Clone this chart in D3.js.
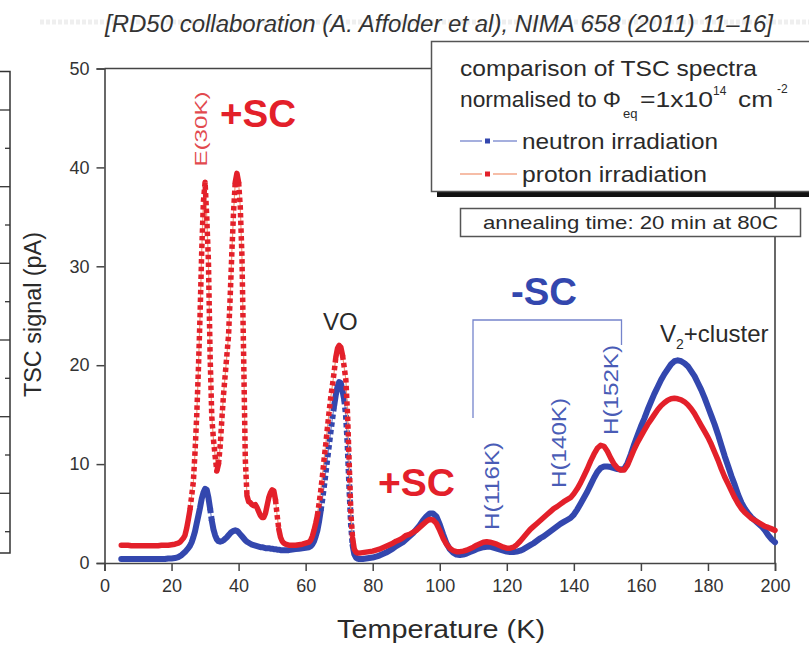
<!DOCTYPE html>
<html>
<head>
<meta charset="utf-8">
<script src="https://cdn.jsdelivr.net/npm/d3@7"></script>
<style>
  body { margin: 0; background: #fff; }
  svg { display: block; font-family: "Liberation Sans", Arial, sans-serif; }
</style>
</head>
<body>
<svg id="chart" width="809" height="645"></svg>
<script>
// ---------------- DATA ----------------
const temperatures = [
  5,6,7,8,9,10,11,12,13,14,15,16,17,18,19,20,21,22,
  22.5,23,23.5,24,24.5,25,25.5,26,26.5,27,
  27.5,28,28.5,29,29.5,30,30.5,31,31.5,32,
  32.5,33,33.5,34,34.5,35,35.5,36,36.5,37,
  37.5,38,38.5,39,39.5,40,40.5,41,41.5,42,
  42.5,43,43.5,44,44.5,45,45.5,46,46.5,47,
  47.5,48,48.5,49,49.5,50,50.5,51,51.5,52,
  52.5,53,53.5,54,54.5,55,
  56,57,58,59,60,61,
  61.5,62,62.5,63,63.5,64,64.5,65,65.5,66,
  66.5,67,67.5,68,68.5,69,69.5,70,70.5,71,
  71.5,72,72.5,73,73.5,74,74.5,75,75.5,76,
  77,78,79,80,81,82,83,84,85,86,
  87,88,89,90,91,92,93,94,95,96,
  97,98,99,100,101,102,103,104,105,106,
  107,108,109,110,111,112,113,114,115,116,
  117,118,119,120,121,122,123,124,125,126,
  127,128,129,130,131,132,133,134,135,136,
  137,138,139,140,141,142,143,144,145,146,
  147,148,149,150,151,152,153,154,155,156,
  157,158,159,160,161,162,163,164,165,166,
  167,168,169,170,171,172,173,174,175,176,
  177,178,179,180,181,182,183,184,185,186,
  187,188,189,190,191,192,193,194,195,196,
  197,198,199,200
];

const protonSignal = [
  1.8,1.8,1.8,1.75,1.75,1.75,1.75,1.75,1.75,1.75,1.75,1.75,1.8,1.8,1.8,1.85,1.9,2.0,
  2.1,2.3,2.5,2.8,3.5,4.4,5.4,6.8,8.2,11.2,
  14.8,19.5,25.0,31.5,36.5,38.5,35.0,30.5,21.0,14.8,
  12.5,10.8,9.3,10.0,11.8,14.5,17.0,19.0,21.0,23.0,
  27.0,31.5,35.5,38.5,39.4,38.5,36.0,31.0,21.0,10.5,
  6.8,6.2,6.1,5.9,5.8,5.9,5.6,5.2,4.8,4.6,
  4.6,5.0,5.8,6.6,7.1,7.4,7.3,6.4,4.8,3.4,
  2.6,2.2,2.0,1.9,1.85,1.8,
  1.8,1.8,1.85,1.9,2.0,2.1,
  2.3,2.7,3.3,4.0,4.8,6.0,7.3,8.8,10.5,12.0,
  13.7,15.3,16.8,18.0,19.3,20.8,21.7,22.0,21.8,21.0,
  19.8,18.5,15.0,10.0,5.0,2.5,1.4,1.1,1.0,1.0,
  1.05,1.1,1.15,1.2,1.3,1.4,1.55,1.7,1.85,2.0,
  2.2,2.35,2.55,2.8,2.9,3.1,3.3,3.6,3.9,4.2,
  4.4,4.35,4.0,3.3,2.5,1.9,1.5,1.25,1.15,1.15,
  1.2,1.3,1.45,1.6,1.8,1.95,2.1,2.15,2.1,2.0,
  1.9,1.75,1.6,1.5,1.5,1.6,1.85,2.2,2.6,3.0,
  3.4,3.7,4.0,4.3,4.6,4.9,5.2,5.5,5.7,5.95,
  6.2,6.4,6.6,7.0,7.5,8.1,8.8,9.5,10.3,11.0,
  11.6,11.9,11.8,11.3,10.6,10.0,9.6,9.4,9.4,9.9,
  10.7,11.5,12.2,12.8,13.4,14.0,14.5,15.0,15.5,15.9,
  16.2,16.45,16.6,16.65,16.6,16.5,16.3,16.0,15.6,15.1,
  14.5,13.9,13.3,12.7,12.0,11.2,10.4,9.5,8.7,8.0,
  7.3,6.6,6.0,5.5,5.1,4.8,4.5,4.3,4.1,3.9,
  3.7,3.6,3.45,3.3
];

const neutronSignal = [
  0.4,0.4,0.4,0.4,0.4,0.4,0.4,0.4,0.4,0.4,0.4,0.4,0.4,0.4,0.45,0.45,0.5,0.6,
  0.7,0.8,0.95,1.1,1.3,1.5,1.75,2.1,2.6,3.2,
  4.0,4.8,5.6,6.5,7.1,7.5,7.4,6.6,5.5,4.3,
  3.4,2.8,2.4,2.2,2.15,2.2,2.3,2.45,2.6,2.8,
  3.0,3.15,3.25,3.3,3.25,3.1,2.9,2.7,2.5,2.3,
  2.15,2.05,1.95,1.85,1.8,1.75,1.7,1.65,1.6,1.6,
  1.55,1.5,1.5,1.5,1.45,1.45,1.4,1.4,1.35,1.35,
  1.3,1.3,1.3,1.3,1.3,1.3,
  1.35,1.4,1.45,1.5,1.55,1.6,
  1.7,1.9,2.2,2.7,3.3,4.2,5.3,6.5,7.8,9.2,
  10.6,12.0,13.4,14.7,15.9,17.0,17.8,18.3,18.2,17.4,
  16.5,15.0,12.0,7.8,4.0,1.8,0.9,0.55,0.45,0.4,
  0.4,0.45,0.5,0.55,0.65,0.75,0.9,1.05,1.25,1.45,
  1.7,1.9,2.1,2.4,2.7,3.0,3.4,3.8,4.3,4.7,
  5.0,5.0,4.7,3.9,2.9,2.0,1.4,1.05,0.85,0.8,
  0.85,0.95,1.1,1.25,1.4,1.5,1.6,1.65,1.65,1.55,
  1.45,1.35,1.25,1.15,1.1,1.1,1.15,1.25,1.4,1.6,
  1.8,2.0,2.25,2.5,2.7,2.95,3.2,3.45,3.7,3.95,
  4.15,4.35,4.55,4.9,5.4,6.0,6.6,7.2,7.9,8.6,
  9.2,9.6,9.75,9.75,9.7,9.6,9.5,9.45,9.5,10.1,
  11.0,12.0,12.9,13.8,14.6,15.5,16.3,17.1,17.8,18.5,
  19.1,19.6,20.1,20.4,20.5,20.4,20.2,19.9,19.4,18.9,
  18.2,17.5,16.7,15.8,14.9,14.0,13.0,11.9,10.8,9.8,
  8.8,7.9,6.9,6.1,5.5,5.0,4.6,4.3,4.0,3.7,
  3.3,2.8,2.4,2.1
];

const xTicks = [0, 20, 40, 60, 80, 100, 120, 140, 160, 180, 200];
const yTicks = [0, 10, 20, 30, 40, 50];
const seriesNames = ["neutron irradiation", "proton irradiation"];
const titleText = "[RD50 collaboration (A. Affolder et al), NIMA 658 (2011) 11\u201316]";

if (temperatures.length !== protonSignal.length || temperatures.length !== neutronSignal.length) {
  console.error("length mismatch", temperatures.length, protonSignal.length, neutronSignal.length);
}

// ---------------- LAYOUT ----------------
const svg = d3.select("#chart");
const RED = "#e3202a", RED_THIN = "#f29a78";
const BLUE = "#3347ae", BLUE_THIN = "#7584cc";
const INK = "#2a2a2a";

const x = d3.scaleLinear().domain([0, 200]).range([104.5, 775]);
const y = d3.scaleLinear().domain([0, 50]).range([563, 68.5]);

svg.append("rect").attr("width", 809).attr("height", 645).attr("fill", "#fff");

// faint dotted band behind title
svg.append("line").attr("x1", 40).attr("x2", 809).attr("y1", 22).attr("y2", 22)
  .attr("stroke", "#efefef").attr("stroke-width", 5).attr("stroke-dasharray", "4 2");

// title
svg.append("text").attr("x", 105).attr("y", 32)
  .attr("font-size", 23).attr("font-style", "italic").attr("fill", "#333")
  .attr("textLength", 668).attr("lengthAdjust", "spacingAndGlyphs")
  .text(titleText);

// partial neighbouring frame at the left edge
const leftFrame = svg.append("g").attr("stroke", "#333").attr("fill", "none");
leftFrame.append("path").attr("d", "M-2,71.5 H10 V553 H-2").attr("stroke-width", 1.5);
const ly = [110, 148.3, 186.7, 225, 263.3, 301.7, 340, 378.3, 416.7, 455, 493.3, 531.7];
ly.forEach((v, i) => {
  leftFrame.append("line").attr("x1", i % 2 === 0 ? 0 : 5).attr("x2", 10)
    .attr("y1", v).attr("y2", v).attr("stroke-width", 1.3);
});

// plot frame (top and right)
svg.append("path")
  .attr("d", `M${x(0)},${y(50)} H${x(200)} V${y(0)}`)
  .attr("fill", "none").attr("stroke", "#444").attr("stroke-width", 1.6);

// axes
const xAxis = svg.append("g").attr("transform", `translate(0,${y(0)})`)
  .call(d3.axisBottom(x).tickValues(xTicks).tickSize(8).tickPadding(8).tickFormat(d3.format("d")));
const yAxis = svg.append("g").attr("transform", `translate(${x(0)},0)`)
  .call(d3.axisLeft(y).tickValues(yTicks).tickSize(8).tickPadding(7).tickFormat(d3.format("d")));
[xAxis, yAxis].forEach(a => {
  a.select(".domain").attr("stroke", "#444").attr("stroke-width", 1.6);
  a.selectAll(".tick line").attr("stroke", "#444").attr("stroke-width", 1.5);
  a.selectAll(".tick text").attr("fill", "#333").attr("font-size", 18)
    .attr("font-family", "Liberation Sans, Arial, sans-serif");
});

// axis titles
svg.append("text").attr("x", 441).attr("y", 638).attr("text-anchor", "middle")
  .attr("font-size", 25).attr("fill", INK)
  .attr("textLength", 208).attr("lengthAdjust", "spacingAndGlyphs")
  .text("Temperature (K)");
svg.append("text").attr("transform", "translate(41,397) rotate(-90)")
  .attr("font-size", 23).attr("fill", INK)
  .attr("textLength", 165).attr("lengthAdjust", "spacingAndGlyphs")
  .text("TSC signal (pA)");

// ---------------- SERIES ----------------
function drawSeries(values, color, thinColor, width) {
  const pts = temperatures.map((t, i) => ({ t: t, v: values[i] }));
  const line = d3.line().x(d => x(d.t)).y(d => y(d.v));
  const g = svg.append("g").attr("fill", "none");
  g.append("path").attr("d", line(pts)).attr("stroke", thinColor).attr("stroke-width", 1.2);
  const steep = [];
  for (let i = 0; i < pts.length - 1; i++) {
    const dx = Math.abs(x(pts[i + 1].t) - x(pts[i].t));
    const dy = Math.abs(y(pts[i + 1].v) - y(pts[i].v));
    steep.push(dy > 7 * dx);
  }
  let i = 0;
  while (i < steep.length) {
    let j = i;
    while (j < steep.length && steep[j] === steep[i]) j++;
    const run = pts.slice(i, j + 1);
    g.append("path").attr("d", line(run))
      .attr("stroke", color).attr("stroke-width", width)
      .attr("stroke-linejoin", "round")
      .attr("stroke-linecap", steep[i] ? "butt" : "round")
      .attr("stroke-dasharray", steep[i] ? "4.5 3.2" : null);
    i = j;
  }
}
drawSeries(neutronSignal, BLUE, BLUE_THIN, 6);
drawSeries(protonSignal, RED, RED_THIN, 5.5);

// ---------------- ANNOTATIONS ----------------
function rotText(tx, ty, txt, size, len, color) {
  svg.append("text").attr("transform", `translate(${tx},${ty}) rotate(-90)`)
    .attr("font-size", size).attr("fill", color)
    .attr("textLength", len).attr("lengthAdjust", "spacingAndGlyphs").text(txt);
}
rotText(207, 166.5, "E(30K)", 17, 75, "#e24a4f");
rotText(499, 530, "H(116K)", 21, 88, "#4a5cb6");
rotText(566, 488, "H(140K)", 21, 90, "#4a5cb6");
rotText(618, 435, "H(152K)", 21, 90, "#4a5cb6");

svg.append("text").attr("x", 220).attr("y", 127).attr("font-size", 38).attr("font-weight", "bold")
  .attr("fill", RED).attr("textLength", 76).attr("lengthAdjust", "spacingAndGlyphs").text("+SC");
svg.append("text").attr("x", 378).attr("y", 496).attr("font-size", 38).attr("font-weight", "bold")
  .attr("fill", RED).attr("textLength", 77).attr("lengthAdjust", "spacingAndGlyphs").text("+SC");
svg.append("text").attr("x", 511).attr("y", 305).attr("font-size", 38).attr("font-weight", "bold")
  .attr("fill", BLUE).attr("textLength", 66).attr("lengthAdjust", "spacingAndGlyphs").text("-SC");

svg.append("text").attr("x", 323).attr("y", 330).attr("font-size", 24).attr("fill", INK).text("VO");
const v2 = svg.append("text").attr("x", 660).attr("y", 342).attr("font-size", 24).attr("fill", INK);
v2.append("tspan").text("V");
v2.append("tspan").attr("font-size", 14).attr("dy", 7).text("2");
v2.append("tspan").attr("dy", -7).text("+cluster");

svg.append("path").attr("d", "M473,418 V320 H621.5 V345")
  .attr("fill", "none").attr("stroke", BLUE_THIN).attr("stroke-width", 1.3);

// ---------------- LEGEND ----------------
svg.append("rect").attr("x", 437).attr("y", 190).attr("width", 380).attr("height", 7).attr("fill", "#111");
svg.append("rect").attr("x", 431.5).attr("y", 41.5).attr("width", 390).attr("height", 150)
  .attr("fill", "#fff").attr("stroke", "#555").attr("stroke-width", 1.5);

svg.append("text").attr("x", 460).attr("y", 76).attr("font-size", 22).attr("fill", INK)
  .attr("textLength", 297).attr("lengthAdjust", "spacingAndGlyphs").text("comparison of TSC spectra");
svg.append("text").attr("x", 460).attr("y", 107).attr("font-size", 22).attr("fill", INK)
  .attr("textLength", 161).attr("lengthAdjust", "spacingAndGlyphs").text("normalised to \u03A6");
svg.append("text").attr("x", 623).attr("y", 118).attr("font-size", 13).attr("fill", INK).text("eq");
svg.append("text").attr("x", 640).attr("y", 107).attr("font-size", 22).attr("fill", INK)
  .attr("textLength", 73).attr("lengthAdjust", "spacingAndGlyphs").text("=1x10");
svg.append("text").attr("x", 713).attr("y", 95).attr("font-size", 12).attr("fill", INK).text("14");
svg.append("text").attr("x", 738).attr("y", 107).attr("font-size", 22).attr("fill", INK)
  .attr("textLength", 35).attr("lengthAdjust", "spacingAndGlyphs").text("cm");
svg.append("text").attr("x", 777).attr("y", 93).attr("font-size", 12).attr("fill", INK).text("-2");

const legendRows = [
  { name: seriesNames[0], color: BLUE, thin: BLUE_THIN, y: 141, len: 196 },
  { name: seriesNames[1], color: RED, thin: RED_THIN, y: 174, len: 185 }
];
legendRows.forEach(r => {
  svg.append("line").attr("x1", 460).attr("x2", 482).attr("y1", r.y).attr("y2", r.y)
    .attr("stroke", r.thin).attr("stroke-width", 1.3);
  svg.append("line").attr("x1", 493).attr("x2", 517).attr("y1", r.y).attr("y2", r.y)
    .attr("stroke", r.thin).attr("stroke-width", 1.3);
  svg.append("rect").attr("x", 485).attr("y", r.y - 2.5).attr("width", 5).attr("height", 5).attr("fill", r.color);
  svg.append("text").attr("x", 522).attr("y", r.y + 8).attr("font-size", 22).attr("fill", INK)
    .attr("textLength", r.len).attr("lengthAdjust", "spacingAndGlyphs").text(r.name);
});

// annealing box
svg.append("rect").attr("x", 460.5).attr("y", 208.5).attr("width", 340).attr("height", 28)
  .attr("fill", "#fff").attr("stroke", "#555").attr("stroke-width", 1.5);
svg.append("text").attr("x", 483).attr("y", 229).attr("font-size", 19).attr("fill", INK)
  .attr("textLength", 295).attr("lengthAdjust", "spacingAndGlyphs").text("annealing time: 20 min at 80C");
</script>
</body>
</html>
